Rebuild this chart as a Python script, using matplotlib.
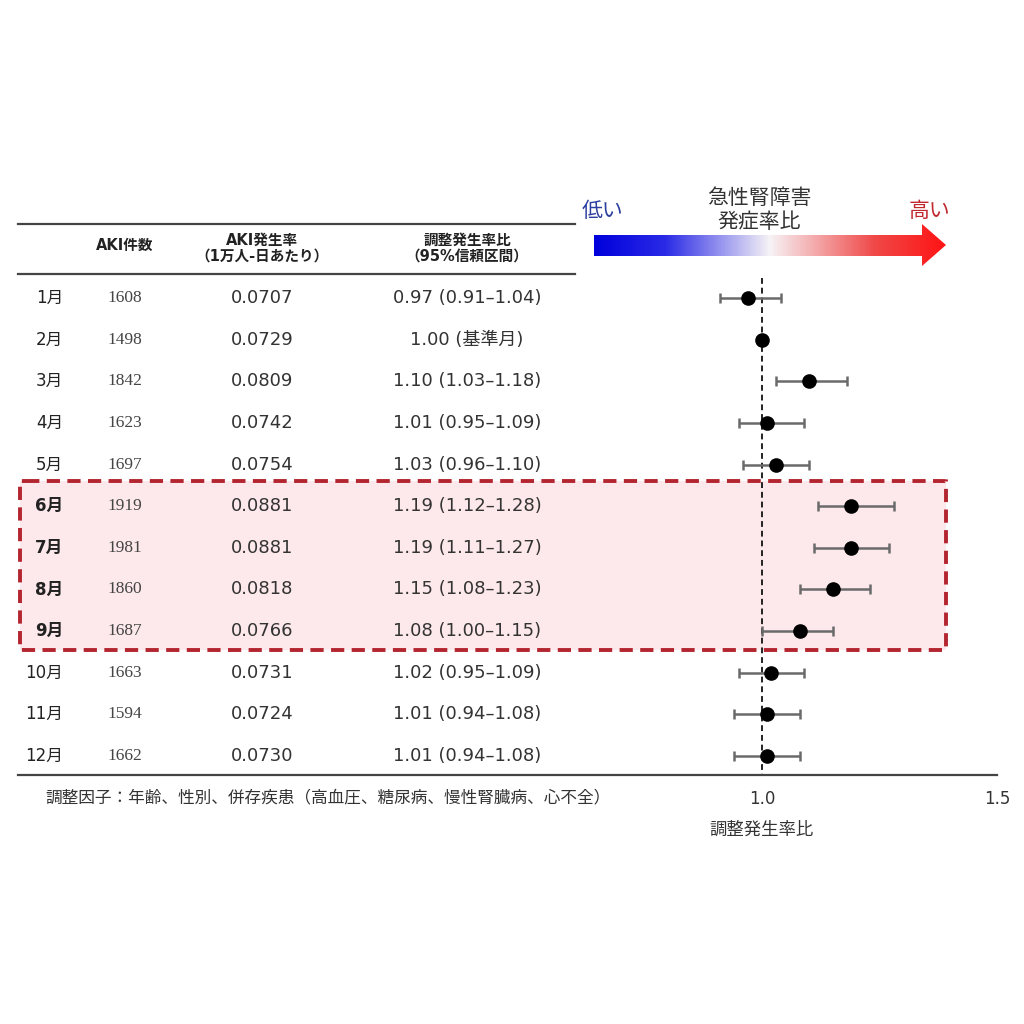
import matplotlib
matplotlib.use("Agg")
import matplotlib.pyplot as plt
import matplotlib.transforms as mtransforms
from matplotlib.colors import LinearSegmentedColormap
from matplotlib.patches import Polygon, FancyBboxPatch
import numpy as np

plt.rcParams["font.family"] = ["DejaVu Sans", "Noto Sans CJK JP"]

# ── data ──
months = ["1月", "2月", "3月", "4月", "5月", "6月", "7月", "8月", "9月", "10月", "11月", "12月"]
aki_counts = [1608, 1498, 1842, 1623, 1697, 1919, 1981, 1860, 1687, 1663, 1594, 1662]
aki_rates = ["0.0707", "0.0729", "0.0809", "0.0742", "0.0754", "0.0881",
             "0.0881", "0.0818", "0.0766", "0.0731", "0.0724", "0.0730"]
irr = [0.97, 1.00, 1.10, 1.01, 1.03, 1.19, 1.19, 1.15, 1.08, 1.02, 1.01, 1.01]
ci_low = [0.91, None, 1.03, 0.95, 0.96, 1.12, 1.11, 1.08, 1.00, 0.95, 0.94, 0.94]
ci_high = [1.04, None, 1.18, 1.09, 1.10, 1.28, 1.27, 1.23, 1.15, 1.09, 1.08, 1.08]
highlight = ["6月", "7月", "8月", "9月"]
headers = ["AKI件数", "AKI発生率\n（1万人-日あたり）", "調整発生率比\n（95%信頼区間）"]
footnote = "調整因子：年齢、性別、併存疾患（高血圧、糖尿病、慢性腎臓病、心不全）"
xticks = [1.0, 1.5]

W = H = 1024
fig = plt.figure(figsize=(10.24, 10.24), dpi=100)

def fx(px):
    return px / W

def fy(py):
    return 1 - py / H

# main axes: from table left edge to the 1.5 tick, bottom spine = bottom rule
ax_left, ax_right, ax_top, ax_bot = 18, 997, 224, 775
ax = fig.add_axes([fx(ax_left), fy(ax_bot), fx(ax_right - ax_left), fy(ax_top) - fy(ax_bot)])
px_per_unit = 470.0
x0 = 1.0 - (762 - ax_left) / px_per_unit
ax.set_xlim(x0, 1.5)
row0, row_step = 298, 41.64
ax.set_ylim((ax_bot - row0) / row_step, (ax_top - row0) / row_step)
for s in ["top", "right", "left"]:
    ax.spines[s].set_visible(False)
ax.spines["bottom"].set_color("#444444")
ax.spines["bottom"].set_linewidth(1.6)
ax.set_yticks([])
ax.set_xticks(xticks)
ax.set_xticklabels([f"{t:.1f}" for t in xticks], fontsize=12, color="#333333")
ax.tick_params(axis="x", length=0, pad=11)
ax.text(1.0, -0.083, "調整発生率比",
        transform=mtransforms.blended_transform_factory(ax.transData, ax.transAxes),
        ha="center", va="top", fontsize=12.5, color="#333333")

rows = np.arange(len(months))
tr = mtransforms.blended_transform_factory(fig.transFigure, ax.transData)

# highlight box
y_top = (481 - row0) / row_step
y_bot = (650 - row0) / row_step
box = FancyBboxPatch((fx(20), y_top), fx(946 - 20), y_bot - y_top,
                     boxstyle="round,pad=0,rounding_size=0.006", transform=tr,
                     facecolor="#fde9eb", edgecolor="#b3252f", linewidth=2.8,
                     linestyle=(0, (3.4, 1.9)), zorder=0, clip_on=False)
ax.add_patch(box)

# table rules
for ry in (224, 274):
    ax.plot([fx(18), fx(575)], [(ry - row0) / row_step] * 2, transform=tr,
            color="#444444", lw=1.6, clip_on=False)

# headers
hy = (248 - row0) / row_step
ax.text(fx(125), (245 - row0) / row_step, headers[0], transform=tr, ha="center", va="center",
        fontsize=10.5, fontweight="bold", color="#222222")
ax.text(fx(262), hy, headers[1], transform=tr, ha="center", va="center",
        fontsize=10.5, fontweight="bold", color="#222222", linespacing=1.05)
ax.text(fx(467), hy, headers[2], transform=tr, ha="center", va="center",
        fontsize=10.5, fontweight="bold", color="#222222", linespacing=1.05)

# table body
for i, m in enumerate(months):
    bold = m in highlight
    ax.text(fx(63), i, m, transform=tr, ha="right", va="center", fontsize=12,
            fontweight="bold" if bold else "normal", color="#222222")
    ax.text(fx(125), i, str(aki_counts[i]), transform=tr, ha="center", va="center",
            fontsize=12.5, color="#444444", family=["Liberation Serif", "DejaVu Serif"])
    if ci_low[i] is None:
        lab = f"{irr[i]:.2f} (基準月)"
    else:
        lab = f"{irr[i]:.2f} ({ci_low[i]:.2f}\u2013{ci_high[i]:.2f})"
    ax.text(fx(262), i, aki_rates[i], transform=tr, ha="center", va="center",
            fontsize=13, color="#333333")
    ax.text(fx(467), i, lab, transform=tr, ha="center", va="center", fontsize=13, color="#333333")

# forest plot
ax.plot([1.0, 1.0], [(278 - row0) / row_step, ax.get_ylim()[0]], color="#222222",
        lw=1.4, ls=(0, (3, 2)), zorder=2)
for i in rows:
    if ci_low[i] is not None:
        ax.errorbar(irr[i], i, xerr=[[irr[i] - ci_low[i]], [ci_high[i] - irr[i]]],
                    fmt="none", ecolor="#6a6a6a", elinewidth=1.8, capsize=3.8, capthick=1.8, zorder=3)
ax.plot(irr, rows, "o", color="black", markersize=9.5, zorder=4)

# footnote
fig.text(fx(45), fy(797), footnote, ha="left", va="center", fontsize=12, color="#333333")

# gradient arrow
ar_l, ar_r, ar_t, ar_b = 594, 946, 223, 267
axa = fig.add_axes([fx(ar_l), fy(ar_b), fx(ar_r - ar_l), fy(ar_t) - fy(ar_b)])
axa.set_xlim(0, ar_r - ar_l)
axa.set_ylim(ar_b - ar_t, 0)
axa.axis("off")
cmap = LinearSegmentedColormap.from_list("br", [(0, "#0000dc"), (0.2, "#2a2ae6"), (0.5, "#f7f3f6"),
                                               (0.8, "#f04848"), (1, "#ff1414")])
grad = np.linspace(0, 1, 400).reshape(1, -1)
im = axa.imshow(grad, cmap=cmap, aspect="auto", extent=(0, ar_r - ar_l, ar_b - ar_t, 0))
head_x = 922 - ar_l
arrow = Polygon([(0, 12), (head_x, 12), (head_x, 1), (ar_r - ar_l, 22), (head_x, 43), (head_x, 33), (0, 33)],
                closed=True, transform=axa.transData, facecolor="none", edgecolor="none")
axa.add_patch(arrow)
im.set_clip_path(arrow)

fig.text(fx(603), fy(211), "低い", ha="center", va="center", fontsize=15, color="#2c3e9e")
fig.text(fx(929), fy(211), "高い", ha="center", va="center", fontsize=15, color="#c0282e")
fig.text(fx(759), fy(210), "急性腎障害\n発症率比", ha="center", va="center", fontsize=15,
         color="#333333", linespacing=1.25)

fig.savefig("out.png", dpi=100, facecolor="white")
